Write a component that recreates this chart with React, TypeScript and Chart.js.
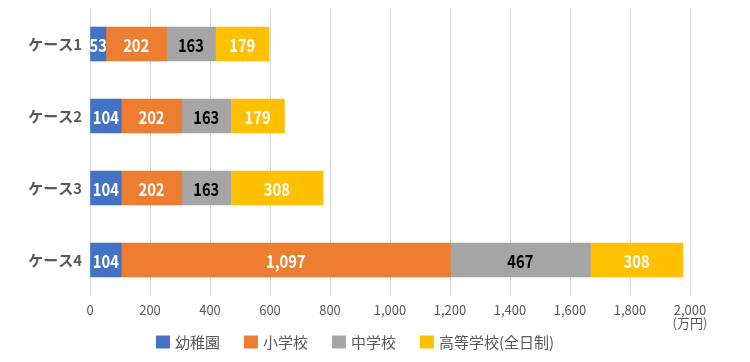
import React, { useEffect, useRef } from "react";
import { Chart, registerables } from "chart.js";

Chart.register(...registerables);

const categories = ["ケース1", "ケース2", "ケース3", "ケース4"];
const kindergarten = [53, 104, 104, 104];
const elementary = [202, 202, 202, 1097];
const juniorHigh = [163, 163, 163, 467];
const highSchool = [179, 179, 308, 308];
const seriesNames = ["幼稚園", "小学校", "中学校", "高等学校(全日制)"];
const seriesColors = ["#4472C4", "#ED7D31", "#A5A5A5", "#FFC000"];
const labelColors = ["#FFFFFF", "#FFFFFF", "#000000", "#FFFFFF"];
const xTickStep = 200;
const xMax = 2000;
const unitLabel = "(万円)";

const FONT = "'Noto Sans CJK JP', 'Noto Sans', sans-serif";

const valueLabelPlugin = {
  id: "valueLabels",
  afterDatasetsDraw(chart: any) {
    const ctx = chart.ctx;
    ctx.save();
    ctx.font = `bold 18px ${FONT}`;
    ctx.textAlign = "center";
    ctx.textBaseline = "middle";
    const sx = 0.82;
    chart.data.datasets.forEach((ds: any, di: number) => {
      const meta = chart.getDatasetMeta(di);
      meta.data.forEach((bar: any, i: number) => {
        const v = ds.data[i];
        const cx = (bar.x + bar.base) / 2;
        ctx.save();
        ctx.translate(cx, bar.y + 1);
        ctx.scale(sx, 1);
        ctx.fillStyle = labelColors[di];
        ctx.fillText(v.toLocaleString("en-US"), 0, 0);
        ctx.restore();
      });
    });
    const xs = chart.scales.x;
    ctx.font = `13px ${FONT}`;
    ctx.fillStyle = "#595959";
    ctx.fillText(unitLabel, xs.getPixelForValue(xMax), 323);
    ctx.restore();
  },
  afterDraw(chart: any) {
    const ctx = chart.ctx;
    ctx.save();
    ctx.font = `15px ${FONT}`;
    ctx.textBaseline = "middle";
    ctx.textAlign = "left";
    const box = 14;
    const gapText = 5;
    const gapItem = 24;
    const ds = chart.data.datasets;
    const widths = ds.map((d: any) => ctx.measureText(d.label).width);
    const total =
      widths.reduce((a: number, b: number) => a + b, 0) +
      ds.length * (box + gapText) +
      (ds.length - 1) * gapItem;
    let x = 355 - total / 2;
    const cy = 342;
    ds.forEach((d: any, i: number) => {
      ctx.fillStyle = d.backgroundColor;
      ctx.fillRect(x, cy - 6.5, box, 13);
      x += box + gapText;
      ctx.fillStyle = "#595959";
      ctx.fillText(d.label, x, cy);
      x += widths[i] + gapItem;
    });
    ctx.restore();
  },
};

export default function App() {
  const ref = useRef<HTMLCanvasElement>(null);
  useEffect(() => {
    const datasets = [kindergarten, elementary, juniorHigh, highSchool].map((d, i) => ({
      label: seriesNames[i],
      data: d,
      backgroundColor: seriesColors[i],
      borderWidth: 0,
      barThickness: 34,
    }));
    const chart = new Chart(ref.current!, {
      type: "bar",
      data: { labels: categories, datasets },
      options: {
        indexAxis: "y",
        animation: false,
        responsive: true,
        maintainAspectRatio: false,
        layout: { padding: { top: 8, right: 60, left: 0, bottom: 35 } },
        scales: {
          x: {
            stacked: true,
            min: 0,
            max: xMax,
            ticks: {
              stepSize: xTickStep,
              color: "#595959",
              font: { family: FONT, size: 13 },
              padding: 6,
              callback: (v: any) => Number(v).toLocaleString("en-US"),
            },
            grid: { color: "#D9D9D9", drawTicks: false },
            border: { display: false },
            afterFit: (s: any) => {
              s.height = 31;
              s.paddingLeft = 0;
              s.paddingRight = 0;
            },
          },
          y: {
            stacked: true,
            ticks: {
              color: "#595959",
              font: { family: FONT, size: 15, weight: "bold" },
              padding: 8,
            },
            grid: { display: false, drawTicks: false },
            border: { display: false },
            afterFit: (s: any) => {
              s.width = 90;
              s.paddingTop = 0;
              s.paddingBottom = 0;
            },
          },
        },
        plugins: {
          legend: { display: false },
          tooltip: { enabled: false },
        },
      },
      plugins: [valueLabelPlugin],
    });
    return () => chart.destroy();
  }, []);
  return (
    <div style={{ position: "absolute", left: 0, top: 0, width: 750, height: 362 }}>
      <canvas ref={ref} />
    </div>
  );
}
